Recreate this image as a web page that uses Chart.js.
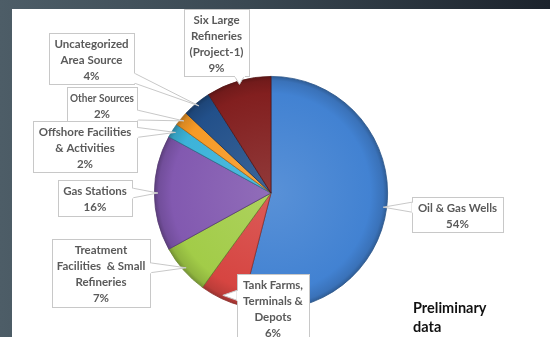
<!DOCTYPE html>
<html>
<head>
<meta charset="utf-8">
<script src="https://cdn.jsdelivr.net/npm/chart.js@4/dist/chart.umd.min.js"></script>
<style>
  html, body { margin: 0; padding: 0; }
  body {
    width: 550px; height: 337px; overflow: hidden; position: relative;
    background: linear-gradient(90deg, #4d5d67 0%, #3a4852 45%, #1c232c 100%);
  }
  #panel { position: absolute; left: 12px; top: 9px; right: 0; bottom: 0; background: #fff; }
  #pieChart { position: absolute; left: 0; top: 0; }
</style>
</head>
<body>
<div id="panel"></div>
<canvas id="pieChart" width="550" height="337"></canvas>
<script>
// Emission sources, clockwise from 12 o'clock
const categories = [
  ["Oil & Gas Wells"],
  ["Tank Farms,", "Terminals &", "Depots"],
  ["Treatment", "Facilities  & Small", "Refineries"],
  ["Gas Stations"],
  ["Offshore Facilities", "& Activities"],
  ["Other Sources"],
  ["Uncategorized", "Area Source"],
  ["Six Large", "Refineries", "(Project-1)"]
];
const values = [54, 6, 7, 16, 2, 2, 4, 9];

const sliceColors = ["#4282d2", "#d64541", "#a2cc48", "#8259b0", "#3cb3d9", "#f79a26", "#22508a", "#821f1f"];

// callout boxes [x, y, w, h]
const boxes = [
  [412, 197, 91, 35],
  [237, 274, 72, 72],
  [52, 239, 98, 68],
  [58, 180, 74, 36],
  [33, 121, 104, 51],
  [67, 87, 70, 34],
  [49, 33, 85, 51],
  [184, 9, 65, 67]
];

function shade(hex, amt) {
  const n = parseInt(hex.slice(1), 16);
  let r = (n >> 16) & 255, g = (n >> 8) & 255, b = n & 255;
  const f = (c) => Math.max(0, Math.min(255, Math.round(amt > 0 ? c + (255 - c) * amt : c * (1 + amt))));
  return "rgb(" + f(r) + "," + f(g) + "," + f(b) + ")";
}

function sliceFill(ctx) {
  const chart = ctx.chart;
  const area = chart.chartArea;
  const base = sliceColors[ctx.dataIndex];
  if (!area) return base;
  const cx = (area.left + area.right) / 2;
  const cy = (area.top + area.bottom) / 2;
  const r = Math.min(area.right - area.left, area.bottom - area.top) / 2;
  const g = chart.ctx.createRadialGradient(cx, cy, 0, cx, cy, r);
  g.addColorStop(0, shade(base, 0.12));
  g.addColorStop(0.85, base);
  g.addColorStop(0.96, shade(base, -0.12));
  g.addColorStop(1, shade(base, -0.3));
  return g;
}

// leader wedges, boxes and text
const calloutPlugin = {
  id: "callouts",
  afterDraw(chart) {
    const ctx = chart.ctx;
    const meta = chart.getDatasetMeta(0);
    ctx.save();
    meta.data.forEach((arc, i) => {
      const p = arc.getProps(["x", "y", "startAngle", "endAngle", "outerRadius"], true);
      const mid = (p.startAngle + p.endAngle) / 2;
      const tx = p.x + Math.cos(mid) * p.outerRadius * 0.97;
      const ty = p.y + Math.sin(mid) * p.outerRadius * 0.97;
      const [bx, by, bw, bh] = boxes[i];
      let b1, b2;
      const clamp = (v, lo, hi) => Math.max(lo, Math.min(hi, v));
      if (tx > bx + bw) {
        const yy = clamp(ty, by + 6, by + bh - 6);
        b1 = [bx + bw, yy - 5]; b2 = [bx + bw, yy + 5];
      } else if (tx < bx) {
        const yy = clamp(ty, by + 6, by + bh - 6);
        b1 = [bx, yy - 5]; b2 = [bx, yy + 5];
      } else if (ty > by + bh) {
        const xx = clamp(tx, bx + 6, bx + bw - 6);
        b1 = [xx - 5, by + bh]; b2 = [xx + 5, by + bh];
      } else {
        const xx = clamp(tx, bx + 6, bx + bw - 6);
        b1 = [xx - 5, by]; b2 = [xx + 5, by];
      }
      ctx.beginPath();
      ctx.moveTo(b1[0], b1[1]);
      ctx.lineTo(tx, ty);
      ctx.lineTo(b2[0], b2[1]);
      ctx.closePath();
      ctx.fillStyle = "#ffffff";
      ctx.fill();
      ctx.strokeStyle = "#c8c8c8";
      ctx.lineWidth = 1;
      ctx.stroke();

      ctx.fillStyle = "#ffffff";
      ctx.fillRect(bx + 0.5, by + 0.5, bw, bh);
      ctx.strokeRect(bx + 0.5, by + 0.5, bw, bh);
      // patch the box edge over the wedge base
      ctx.beginPath();
      ctx.moveTo(b1[0] + 0.5, b1[1] + 0.5);
      ctx.lineTo(b2[0] + 0.5, b2[1] + 0.5);
      ctx.strokeStyle = "#ffffff";
      ctx.lineWidth = 1.5;
      ctx.stroke();

      const lines = categories[i].concat([values[i] + "%"]);
      ctx.fillStyle = "#5a5a5a";
      ctx.font = "bold 11.5px Lato";
      ctx.textAlign = "center";
      ctx.textBaseline = "middle";
      lines.forEach((t, k) => {
        ctx.fillText(t, bx + bw / 2, by + 11 + k * 16, bw - 6);
      });
    });

    ctx.fillStyle = "#111111";
    ctx.font = "bold 14.5px Lato";
    ctx.textAlign = "left";
    ctx.textBaseline = "middle";
    ctx.fillText("Preliminary", 413, 308);
    ctx.fillText("data", 413, 327);
    ctx.restore();
  }
};

new Chart(document.getElementById("pieChart"), {
  type: "pie",
  data: {
    labels: categories.map((c) => c.join(" ")),
    datasets: [{
      data: values,
      backgroundColor: sliceFill,
      borderColor: sliceColors.map((c) => shade(c, -0.35)),
      borderWidth: 0.8
    }]
  },
  options: {
    responsive: false,
    animation: false,
    layout: { padding: { top: 76, bottom: 27, left: 154, right: 162 } },
    plugins: {
      legend: { display: false },
      tooltip: { enabled: false }
    }
  },
  plugins: [calloutPlugin]
});
</script>
</body>
</html>
